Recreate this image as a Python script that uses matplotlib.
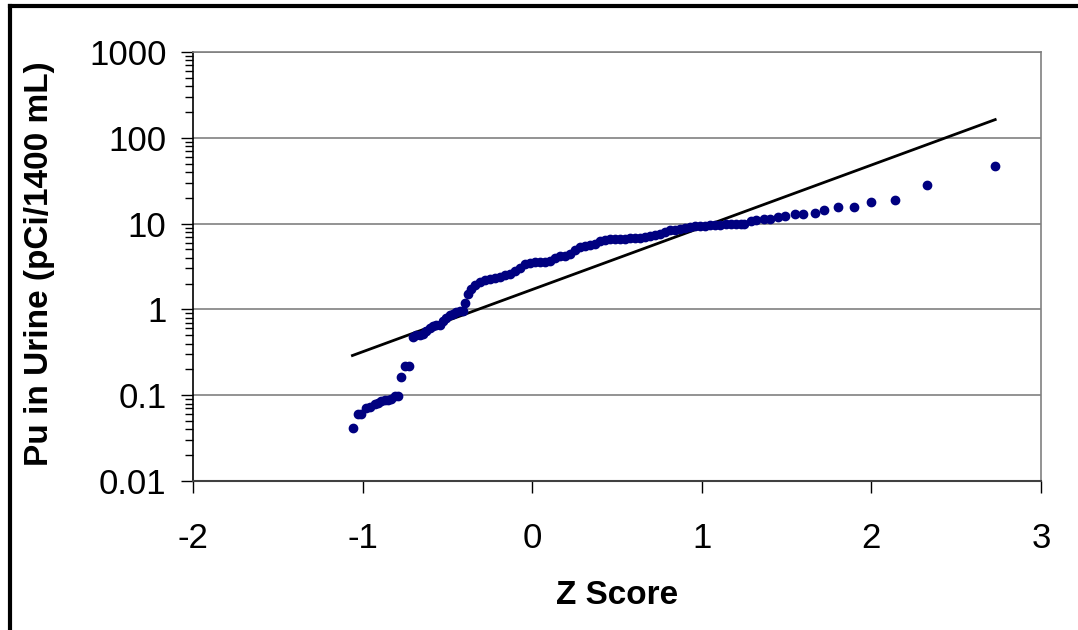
import matplotlib
matplotlib.use("Agg")
import matplotlib.pyplot as plt
from matplotlib.lines import Line2D
from matplotlib.ticker import LogLocator, FixedLocator, NullFormatter, FixedFormatter

plt.rcParams['font.family'] = ['Liberation Sans', 'DejaVu Sans']

# Measured data (z score, Pu in urine)
z_scores = [-1.057, -1.027, -1.007, -0.978, -0.959, -0.929, -0.909, -0.890, -0.870, -0.851,
            -0.831, -0.811, -0.792, -0.772, -0.748, -0.729,
            -0.703, -0.683, -0.664, -0.644, -0.624, -0.605, -0.585, -0.565, -0.546, -0.526,
            -0.506, -0.487, -0.468, -0.448, -0.428, -0.409,
            -0.398, -0.379, -0.359, -0.34, -0.31, -0.281, -0.251, -0.222, -0.192, -0.163,
            -0.133, -0.104, -0.074, -0.045, -0.015,
            0.014, 0.044, 0.073, 0.103, 0.132, 0.162, 0.191, 0.221, 0.25, 0.279, 0.309,
            0.338, 0.368, 0.397, 0.427, 0.456, 0.486, 0.515, 0.545,
            0.575, 0.604, 0.634, 0.663, 0.693, 0.722, 0.752, 0.781, 0.811, 0.84, 0.87,
            0.899, 0.929, 0.958, 0.988,
            1.02, 1.05, 1.08, 1.11, 1.14, 1.17, 1.20, 1.23,
            1.25, 1.29, 1.32, 1.365, 1.40, 1.45, 1.49, 1.55, 1.595, 1.665, 1.72, 1.805,
            1.895, 2.0, 2.14, 2.33, 2.73]
pu_values = [0.042, 0.061, 0.061, 0.0715, 0.0727, 0.078, 0.082, 0.085, 0.087, 0.087,
             0.091, 0.097, 0.098, 0.163, 0.217, 0.217,
             0.476, 0.498, 0.507, 0.521, 0.559, 0.612, 0.634, 0.651, 0.651, 0.731,
             0.80, 0.851, 0.891, 0.93, 0.955, 0.955,
             1.18, 1.52, 1.74, 1.9, 2.08, 2.18, 2.28, 2.32, 2.38, 2.49,
             2.61, 2.79, 3.06, 3.35, 3.46,
             3.56, 3.56, 3.56, 3.63, 4.0, 4.15, 4.15, 4.46, 4.96, 5.32, 5.42,
             5.57, 5.83, 6.2, 6.49, 6.54, 6.54, 6.54, 6.6,
             6.72, 6.85, 6.85, 6.96, 7.1, 7.28, 7.48, 7.96, 8.33, 8.49, 8.63,
             8.86, 9.1, 9.3, 9.4,
             9.5, 9.6, 9.7, 9.75, 9.8, 9.85, 9.9, 9.95,
             10.0, 10.6, 10.9, 11.2, 11.2, 11.8, 12.1, 12.8, 12.8, 13.2, 14.3, 15.5,
             15.5, 17.7, 18.7, 27.9, 46.4]

# Fitted lognormal line (end points)
fit_z = [-1.06, 2.73]
fit_pu = [0.29, 163.0]

x_ticks = [-2, -1, 0, 1, 2, 3]
y_ticks = [0.01, 0.1, 1, 10, 100, 1000]
y_tick_labels = ["0.01", "0.1", "1", "10", "100", "1000"]

W, H = 1078, 630
fig = plt.figure(figsize=(W / 100, H / 100), dpi=100)
fig.patch.set_facecolor('white')
ax = fig.add_axes([193 / W, 1 - 481 / H, (1041 - 193) / W, (481 - 52) / H])

ax.set_yscale('log')
ax.set_xlim(-2, 3)
ax.set_ylim(0.01, 1000)

for yv in y_ticks[1:]:
    ax.axhline(yv, color='#808080', lw=1.2, zorder=1)

ax.plot(fit_z, fit_pu, color='black', lw=2.0, zorder=2)
ax.plot(z_scores, pu_values, linestyle='none', marker='o', markersize=6.0,
        markerfacecolor='#000080', markeredgecolor='#000080', zorder=3)

ax.yaxis.set_major_locator(FixedLocator(y_ticks))
ax.yaxis.set_major_formatter(FixedFormatter(y_tick_labels))
ax.yaxis.set_minor_locator(LogLocator(base=10, subs=range(2, 10), numticks=20))
ax.yaxis.set_minor_formatter(NullFormatter())
ax.xaxis.set_major_locator(FixedLocator(x_ticks))
ax.set_xticklabels([str(v) for v in x_ticks])

ax.tick_params(axis='y', which='major', direction='out', length=9, width=1, pad=10,
               labelsize=25, colors='black')
ax.tick_params(axis='y', which='minor', direction='out', length=5.5, width=1)
ax.tick_params(axis='x', which='major', direction='out', length=8.5, width=1, pad=21,
               labelsize=25, colors='black')
ax.tick_params(axis='x', which='minor', bottom=False)

ax.spines['left'].set_color('black')
ax.spines['left'].set_linewidth(1.2)
ax.spines['bottom'].set_color('#404040')
ax.spines['bottom'].set_linewidth(1.5)
ax.spines['right'].set_color('#808080')
ax.spines['right'].set_linewidth(1.2)
ax.spines['top'].set_color('#808080')
ax.spines['top'].set_linewidth(1.2)

fig.text(40 / W, 1 - 264 / H, "Pu in Urine (pCi/1400 mL)", rotation=90,
         ha='center', va='center', fontsize=24, fontweight='bold')
fig.text(617 / W, 1 - 595 / H, "Z Score", ha='center', va='center',
         fontsize=24, fontweight='bold')

# Outer frame (left and top edges visible)
fig.add_artist(Line2D([10 / W, 10 / W], [0, 1 - 6 / H], transform=fig.transFigure,
                      color='black', lw=3))
fig.add_artist(Line2D([10 / W, 1], [1 - 6 / H, 1 - 6 / H], transform=fig.transFigure,
                      color='black', lw=3))

fig.savefig("out.png", dpi=100, facecolor='white')
